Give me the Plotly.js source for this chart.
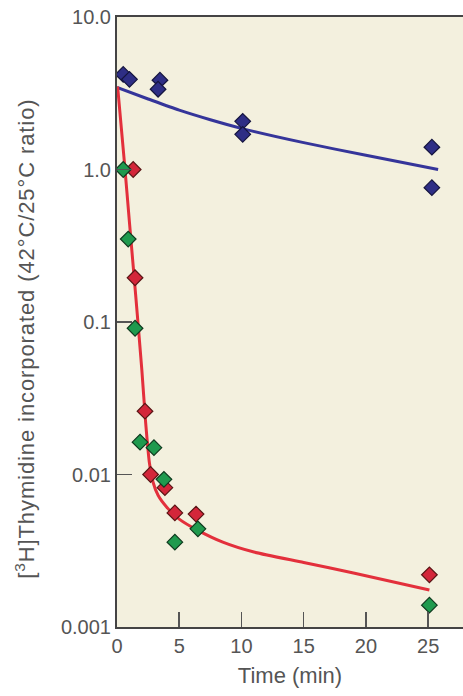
<!DOCTYPE html>
<html>
<head>
<meta charset="utf-8">
<script src="https://cdn.plot.ly/plotly-3.0.1.min.js"></script>
<style>
html,body{margin:0;padding:0;background:#fff;}
.annotation-text{letter-spacing:0.9px;}
</style>
</head>
<body>
<div id="chart" style="width:463px;height:696px;"></div>
<script>
// Blue measurements
const blueX = [0.5, 1.0, 3.45, 3.3, 10.1, 10.1, 25.3, 25.3];
const blueY = [4.2, 3.9, 3.85, 3.36, 2.07, 1.70, 1.40, 0.76];
// Red measurements
const redX = [1.3, 1.45, 2.25, 2.7, 3.85, 4.65, 6.35, 25.1];
const redY = [1.0, 0.195, 0.026, 0.010, 0.0082, 0.0056, 0.0055, 0.0022];
// Green measurements
const greenX = [0.5, 0.9, 1.45, 1.85, 2.97, 3.77, 4.65, 6.5, 25.1];
const greenY = [1.0, 0.35, 0.091, 0.0163, 0.015, 0.0093, 0.0036, 0.0044, 0.00139];
// Fitted curves
const blueFitX = [0, 2.5, 5, 7.5, 10, 15, 20, 25.8];
const blueFitY = [3.45, 2.9, 2.45, 2.12, 1.86, 1.5, 1.24, 1.0];
const redFitX = [0.05, 0.6, 1.0, 1.5, 2.0, 2.3, 2.6, 2.9, 3.3, 4.0, 5.0, 6.5, 8.5, 11.0, 15.0, 19.0, 25.1];
const redFitY = [3.5, 1.1, 0.45, 0.15, 0.048, 0.022, 0.012, 0.0089, 0.0073, 0.0061, 0.0051, 0.0043, 0.0036, 0.0031, 0.00265, 0.00226, 0.00175];
// Tick labels
const xTicks = [0, 5, 10, 15, 20, 25];
const yTickVals = [0.001, 0.01, 0.1, 1, 10];
const yTickText = ["0.001", "0.01", "0.1", "1.0", "10.0"];

const mk = (fill, line) => ({symbol: 'diamond', size: 12, color: fill, line: {color: line, width: 1.2}});

const data = [
  {x: blueFitX, y: blueFitY, mode: 'lines', line: {color: '#35359a', width: 3, shape: 'spline', smoothing: 0.7}, hoverinfo: 'skip'},
  {x: redFitX, y: redFitY, mode: 'lines', line: {color: '#e3303c', width: 3, shape: 'spline', smoothing: 0.6}, hoverinfo: 'skip'},
  {x: blueX, y: blueY, mode: 'markers', marker: mk('#2e2e85', '#15153f')},
  {x: redX, y: redY, mode: 'markers', marker: mk('#d3263a', '#5a1515')},
  {x: greenX, y: greenY, mode: 'markers', marker: mk('#1f9a4e', '#0f3a1f')}
];

const FAM = 'Liberation Sans, Arial, sans-serif';
const tickFont = {family: FAM, size: 20, color: '#555'};

const layout = {
  width: 463, height: 696,
  margin: {l: 117, r: 0, t: 17, b: 69},
  paper_bgcolor: '#ffffff',
  plot_bgcolor: '#f3f0de',
  showlegend: false,
  xaxis: {
    range: [0, 27.8], tickmode: 'array', tickvals: xTicks, ticktext: xTicks.map(String),
    ticks: 'inside', ticklen: 15, tickwidth: 1.5, tickcolor: '#555',
    showline: true, linecolor: '#444', linewidth: 2, mirror: true,
    showgrid: false, zeroline: false, tickfont: tickFont,
    title: {text: 'Time (min)', font: {family: FAM, size: 22, color: '#555'}, standoff: 12}
  },
  yaxis: {
    type: 'log', range: [-3, 1], tickmode: 'array', tickvals: yTickVals, ticktext: yTickText,
    ticks: 'inside', ticklen: 15, tickwidth: 1.5, tickcolor: '#555',
    showline: true, linecolor: '#444', linewidth: 2,
    showgrid: false, zeroline: false, tickfont: tickFont
  },
  annotations: [{
    text: '[<sup>3</sup>H]Thymidine incorporated (42°C/25°C ratio)',
    xref: 'paper', yref: 'paper', x: -0.265, y: 0.473,
    xanchor: 'center', yanchor: 'middle', textangle: -90, showarrow: false,
    font: {family: FAM, size: 22, color: '#555'}
  }]
};

Plotly.newPlot('chart', data, layout, {displayModeBar: false, staticPlot: true});
</script>
</body>
</html>
